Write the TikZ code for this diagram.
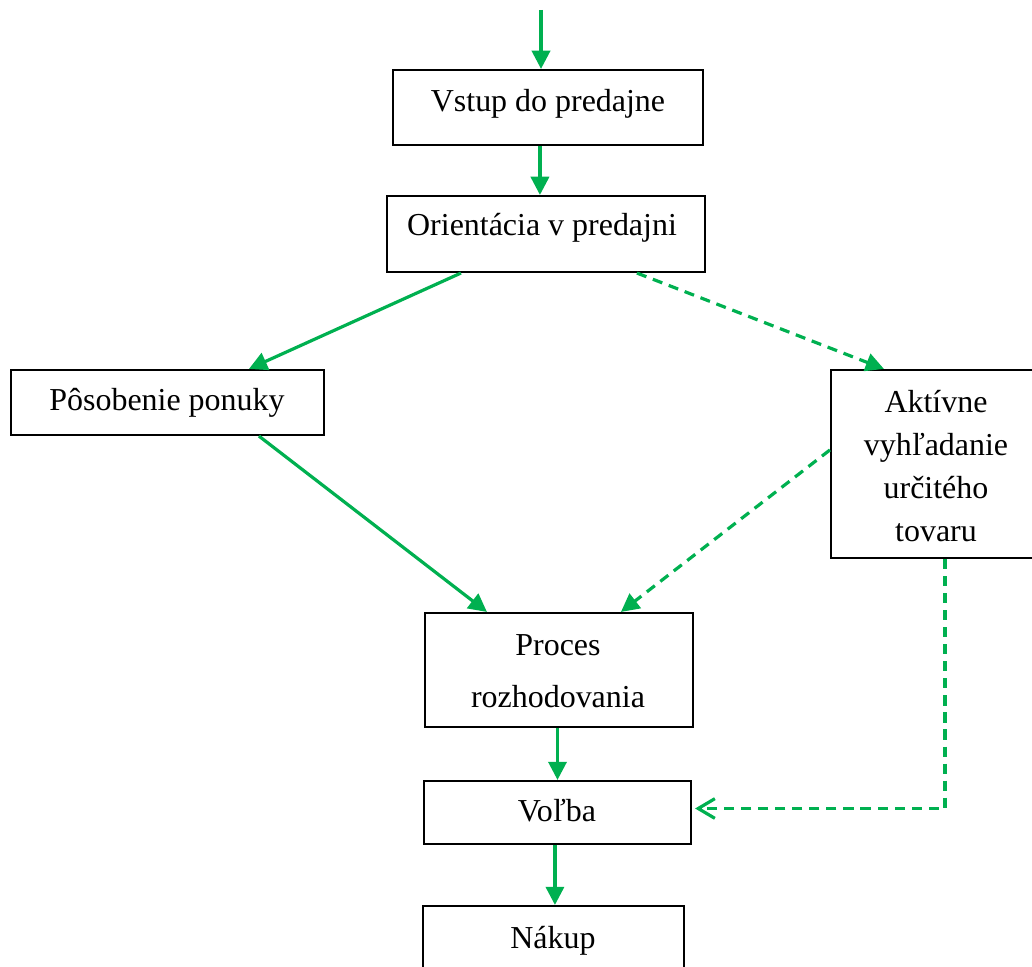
\documentclass[tikz,border=0pt]{standalone}
\usepackage{fontspec}
\setmainfont{Liberation Serif}
\usepackage{xcolor}
\usetikzlibrary{arrows.meta,calc,fit}
\definecolor{flowgreen}{HTML}{00B050}

\begin{document}
\begin{tikzpicture}[
    x=0.0132cm, y=-0.0132cm,
    font=\fontsize{12}{14}\selectfont,
    box/.style={draw, line width=0.8pt, inner sep=0pt},
    lbl/.style={inner sep=0pt, align=center},
    flow/.style={flowgreen, line width=1.2pt, -{Triangle[length=0.24cm, width=0.24cm]}},
    dashflow/.style={flow, dash pattern=on 3.8pt off 2.6pt},
]
% Frame (pixel grid of the page)
\useasboundingbox (0,0) rectangle (1032,967);
\clip (0,0) rectangle (1032,967);

% Boxes
\node[box, fit={(393,70) (703,145)}] (vstup) {};
\node[box, fit={(387,196) (705,272)}] (orient) {};
\node[box, fit={(11,370) (324,435)}] (posob) {};
\node[box, fit={(831,370) (1045,558)}] (aktiv) {};
\node[box, fit={(425,613) (693,727)}] (proces) {};
\node[box, fit={(424,781) (691,844)}] (volba) {};
\node[box, fit={(423,906) (684,1010)}] (nakup) {};

% Texts
\node[lbl, anchor=base] (vstup-t) at (548,112) {Vstup do predajne};
\node[lbl, anchor=base] (orient-t) at (542,236) {Orientácia v predajni};
\node[lbl, anchor=base] (posob-t) at (167,411) {Pôsobenie ponuky};
\node[lbl, font=\fontsize{12}{16.2}\selectfont] (aktiv-t) at (936,466)
    {Aktívne\\vyhľadanie\\určitého\\tovaru};
\node[lbl, font=\fontsize{12}{19.5}\selectfont] (proces-t) at (558,671)
    {Proces\\rozhodovania};
\node[lbl, anchor=base] (volba-t) at (557,821) {Voľba};
\node[lbl, anchor=base] (nakup-t) at (553,948) {Nákup};

% Main flow
\coordinate (start) at (541,10);
\draw[flow] (start) -- (start |- vstup.north);
\draw[flow] ($(vstup.south west)+(148,0)$) coordinate (a1) -- (a1 |- orient.north);
\draw[flow] ($(orient.south west)+(75,0)$) -- ($(posob.north west)+(239,0)$);
\draw[flow] ($(posob.south west)+(249,0)$) -- ($(proces.north west)+(63,0)$);
\draw[flow] (proces.south -| volba.north) -- (volba.north);
\draw[flow] ($(volba.south west)+(132,0)$) coordinate (a2) -- (a2 |- nakup.north);

% Active search branch
\draw[dashflow] ($(orient.south west)+(251,0)$) -- ($(aktiv.north west)+(54,0)$);
\draw[dashflow] ($(aktiv.north west)+(0,81)$) -- ($(proces.north west)+(197,0)$);
\draw[dashflow, -{Straight Barb[length=0.22cm, width=0.26cm]}]
    ($(aktiv.south west)+(115,0)$) |- ($(volba.east)+(3,-4)$);

\end{tikzpicture}
\end{document}
